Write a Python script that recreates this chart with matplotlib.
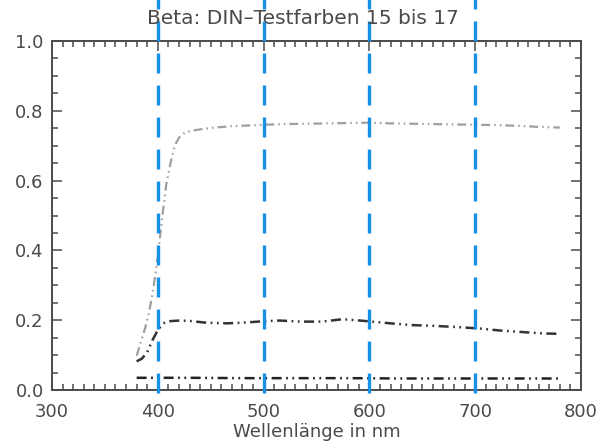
import numpy as np
import matplotlib
matplotlib.use("Agg")
import matplotlib.pyplot as plt
from matplotlib.ticker import MultipleLocator

# Beta curves
wl_hi = [380, 384, 388, 392, 396, 400, 404, 408, 412, 416, 420, 426, 436, 450,
         470, 500, 520, 540, 560, 580, 600, 620, 640, 660, 680, 700, 720, 740,
         760, 780]
beta_hi = [0.098, 0.138, 0.177, 0.226, 0.295, 0.383, 0.49, 0.59, 0.65, 0.70,
           0.723, 0.739, 0.745, 0.751, 0.756, 0.760, 0.762, 0.763, 0.764, 0.765,
           0.766, 0.764, 0.763, 0.762, 0.761, 0.760, 0.759, 0.757, 0.754, 0.752]

wl_mid = [380, 385, 390, 395, 400, 405, 410, 420, 430, 445, 465, 480, 500, 515,
          535, 555, 575, 595, 620, 640, 660, 685, 705, 725, 745, 765, 780]
beta_mid = [0.082, 0.090, 0.108, 0.143, 0.172, 0.191, 0.197, 0.199, 0.198,
            0.193, 0.191, 0.193, 0.197, 0.199, 0.196, 0.196, 0.203, 0.198,
            0.191, 0.186, 0.184, 0.180, 0.176, 0.170, 0.166, 0.162, 0.161]

wl_lo = [380, 430, 480, 530, 580, 630, 680, 730, 780]
beta_lo = [0.035, 0.035, 0.034, 0.034, 0.034, 0.033, 0.033, 0.033, 0.033]

marker_lines = [400, 500, 600, 700]

txt = "#4a4a4a"
plt.rcParams["font.family"] = "DejaVu Sans"

fig = plt.figure(figsize=(6.06, 4.44), dpi=100)
ax = fig.add_axes([0.0858, 0.1216, 0.873, 0.786])

dd = (0, (4, 1.8, 0.7, 1.8, 0.7, 1.8))
ax.plot(wl_hi, beta_hi, color="#a0a0a0", lw=1.6, linestyle=dd)
ax.plot(wl_mid, beta_mid, color="#333333", lw=1.8, linestyle=dd)
ax.plot(wl_lo, beta_lo, color="#222222", lw=1.8, linestyle=dd)

for x in marker_lines:
    ax.axvline(x, ymin=-0.01, ymax=1.13, color="#1a8fe8", lw=2.4,
               linestyle=(0, (6.0, 3.6)), clip_on=False, zorder=5)

ax.set_xlim(300, 800)
ax.set_ylim(0, 1.0)
ax.xaxis.set_major_locator(MultipleLocator(100))
ax.xaxis.set_minor_locator(MultipleLocator(10))
ax.yaxis.set_major_locator(MultipleLocator(0.2))
ax.yaxis.set_minor_locator(MultipleLocator(0.05))
ax.yaxis.set_major_formatter(matplotlib.ticker.FormatStrFormatter("%.1f"))
ax.tick_params(which="both", direction="in", top=True, right=True,
               color=txt, labelcolor=txt, labelsize=13, width=1.1)
ax.tick_params(which="major", length=7, pad=6)
ax.tick_params(which="major", axis="x", pad=9)
ax.tick_params(which="minor", length=4)
for s in ax.spines.values():
    s.set_color(txt)
    s.set_linewidth(1.4)

ax.set_xlabel("Wellenlänge in nm", color=txt, fontsize=13, labelpad=2)
fig.text(0.5, 0.958, "Beta: DIN\u2013Testfarben 15 bis 17", ha="center",
         va="center", color=txt, fontsize=14.5)

fig.savefig("out.png", dpi=100)
